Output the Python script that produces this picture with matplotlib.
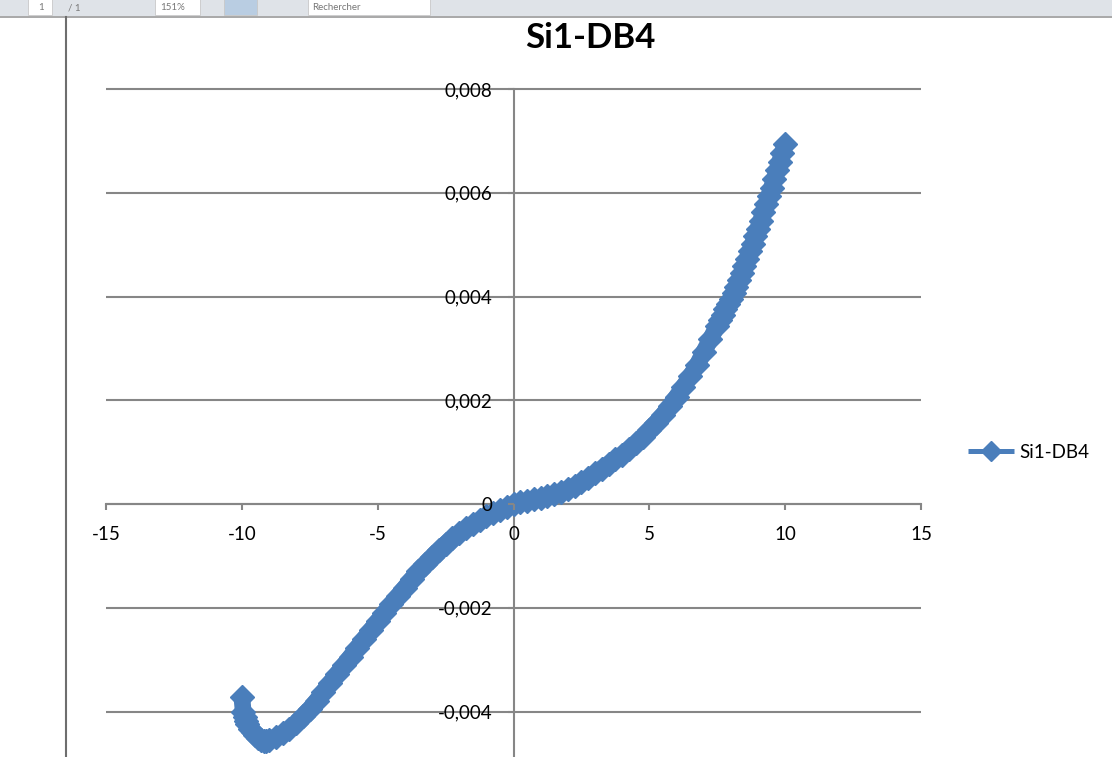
import matplotlib
matplotlib.use("Agg")
import matplotlib.pyplot as plt
from matplotlib.patches import Rectangle
from matplotlib.lines import Line2D

# ---- data ----
series_name = "Si1-DB4"
x_vals = [-10.0, -9.95, -9.9, -9.85, -9.8, -9.7, -9.6, -9.5, -9.4, -9.3, -9.2, -9.1,
          -9.0, -8.75, -8.5, -8.25, -8.0, -7.75, -7.5, -7.25, -7.0, -6.75, -6.5, -6.25,
          -6.0, -5.75, -5.5, -5.25, -5.0, -4.75, -4.5, -4.25, -4.0, -3.75, -3.5, -3.25,
          -3.0, -2.75, -2.5, -2.25, -2.0, -1.75, -1.5, -1.25, -1.0, -0.75, -0.5, -0.25,
          0.0, 0.25, 0.5, 0.75, 1.0, 1.25, 1.5, 1.75, 2.0, 2.25, 2.5, 2.75,
          3.0, 3.25, 3.5, 3.75, 4.0, 4.25, 4.5, 4.75, 5.0, 5.25, 5.5, 5.75,
          6.0, 6.25, 6.5, 6.75, 7.0, 7.25, 7.5, 7.6, 7.7, 7.8, 7.9, 8.0,
          8.1, 8.2, 8.3, 8.4, 8.5, 8.6, 8.7, 8.8, 8.9, 9.0, 9.1, 9.2,
          9.3, 9.4, 9.5, 9.6, 9.7, 9.8, 9.9, 10.0]
y_vals = [-0.00372, -0.00400, -0.00410, -0.00418, -0.00424, -0.00433, -0.00440, -0.00446,
          -0.00451, -0.00454, -0.00456, -0.00456, -0.00454, -0.00449, -0.00442, -0.00433,
          -0.00422, -0.00409, -0.00395, -0.00379, -0.00362, -0.00345, -0.00328, -0.00311,
          -0.00294, -0.00277, -0.00260, -0.00243, -0.00226, -0.00210, -0.00193, -0.00177,
          -0.00161, -0.00145, -0.00130, -0.00116, -0.00102, -0.00089, -0.00077, -0.00066,
          -0.00056, -0.00047, -0.00039, -0.00031, -0.00024, -0.00018, -0.00012, -0.00006,
          0.00000, 0.00003, 0.00006, 0.00009, 0.00012, 0.00016, 0.00020, 0.00024,
          0.00029, 0.00035, 0.00042, 0.00050, 0.00059, 0.00068, 0.00077, 0.00086,
          0.00095, 0.00106, 0.00117, 0.00130, 0.00143, 0.00157, 0.00172, 0.00189,
          0.00207, 0.00226, 0.00246, 0.00267, 0.00293, 0.00318, 0.00344, 0.00354,
          0.00364, 0.00375, 0.00386, 0.00396, 0.00407, 0.00419, 0.00432, 0.00445,
          0.00459, 0.00473, 0.00487, 0.00501, 0.00516, 0.00531, 0.00546, 0.00562,
          0.00578, 0.00594, 0.00610, 0.00626, 0.00643, 0.00660, 0.00677, 0.00694]
x_ticks = [-15, -10, -5, 0, 5, 10, 15]
x_tick_labels = ["-15", "-10", "-5", "0", "5", "10", "15"]
y_ticks = [-0.004, -0.002, 0.0, 0.002, 0.004, 0.006, 0.008]
y_tick_labels = ["-0,004", "-0,002", "0", "0,002", "0,004", "0,006", "0,008"]

# ---- figure ----
W, H = 1112, 757
fig = plt.figure(figsize=(W / 100, H / 100), dpi=100)
fig.patch.set_facecolor("white")
FONT = ["Lato", "DejaVu Sans"]
BLUE = "#4A7EBB"
GRID = "#868686"

def fx(px):
    return px / W

def fy(py):
    return 1 - py / H

# plot area: x -15..15 -> px 106..921 ; y 0.008 at px 89, 0.002 per 103.75 px
px_per = 103.75 / 0.002
top_px = 85
y_top = 0.008 + (89 - top_px) / px_per
y_bot = -0.004 - (H - 711.5) / px_per
ax = fig.add_axes([fx(106), 0, fx(921) - fx(106), fy(top_px)])
ax.set_xlim(-15, 15)
ax.set_ylim(y_bot, y_top)
ax.set_facecolor("none")

for s in ["top", "right"]:
    ax.spines[s].set_visible(False)
ax.spines["left"].set_position(("data", 0))
ax.spines["bottom"].set_position(("data", 0))
for s in ["left", "bottom"]:
    ax.spines[s].set_color(GRID)
    ax.spines[s].set_linewidth(1.5)
    ax.spines[s].set_zorder(1)
ax.spines["left"].set_bounds(y_bot, 0.008)

ax.set_xticks(x_ticks)
ax.set_xticklabels(x_tick_labels, family=FONT, fontsize=13.5)
ax.set_yticks(y_ticks)
ax.set_yticklabels(y_tick_labels, family=FONT, fontsize=13.5)
ax.tick_params(axis="x", direction="out", length=4, width=1.5, color=GRID, pad=12)
ax.tick_params(axis="y", direction="out", length=4, width=1.5, color=GRID, pad=11)
ax.xaxis.set_zorder(4)
ax.yaxis.set_zorder(4)

for yv in y_ticks:
    ax.axhline(yv, color=GRID, lw=1.5, zorder=0.5)

ax.plot(x_vals, y_vals, color=BLUE, lw=12, marker="D", markersize=12.5,
        markerfacecolor=BLUE, markeredgecolor=BLUE, clip_on=False, zorder=3,
        solid_capstyle="butt", label=series_name)

leg = ax.legend(loc="center left", bbox_to_anchor=(fx(959), fy(452)),
                bbox_transform=fig.transFigure, frameon=False, borderpad=0,
                handlelength=2.45, handletextpad=0.25,
                prop={"family": FONT, "size": 13.5})
for h in leg.legend_handles:
    h.set_markersize(10)
    h.set_linewidth(3.6)

fig.text(fx(590), fy(38), "Si1-DB4", ha="center", va="center",
         family=FONT, fontsize=25, fontweight="bold", color="black")

# ---- window chrome (toolbar strip and left border) ----
bar = Rectangle((0, fy(16)), 1, 1 - fy(16), transform=fig.transFigure,
                facecolor="#dfe3e8", edgecolor="none", zorder=5)
fig.add_artist(bar)
fig.add_artist(Line2D([0, 1], [fy(16.5), fy(16.5)], transform=fig.transFigure,
                      color="#9a9a9a", lw=1.2, zorder=6))
for (x0, x1, c) in [(28, 52, "white"), (155, 200, "white"), (308, 430, "white"),
                    (224, 257, "#b9cde2")]:
    fig.add_artist(Rectangle((fx(x0), fy(15)), fx(x1) - fx(x0), 1 - fy(15) + 0.01,
                             transform=fig.transFigure, facecolor=c,
                             edgecolor="#c8c8c8", lw=0.6, zorder=6))
for (xx, txt) in [(38, "1"), (68, "/ 1"), (160, "151%"), (312, "Rechercher")]:
    fig.text(fx(xx), fy(8), txt, ha="left", va="center", family=FONT,
             fontsize=7, color="#777777", zorder=7)
fig.add_artist(Line2D([fx(66), fx(66)], [0, fy(17)], transform=fig.transFigure,
                      color="#6e6e6e", lw=1.5, zorder=6))

fig.savefig("out.png", dpi=100)
